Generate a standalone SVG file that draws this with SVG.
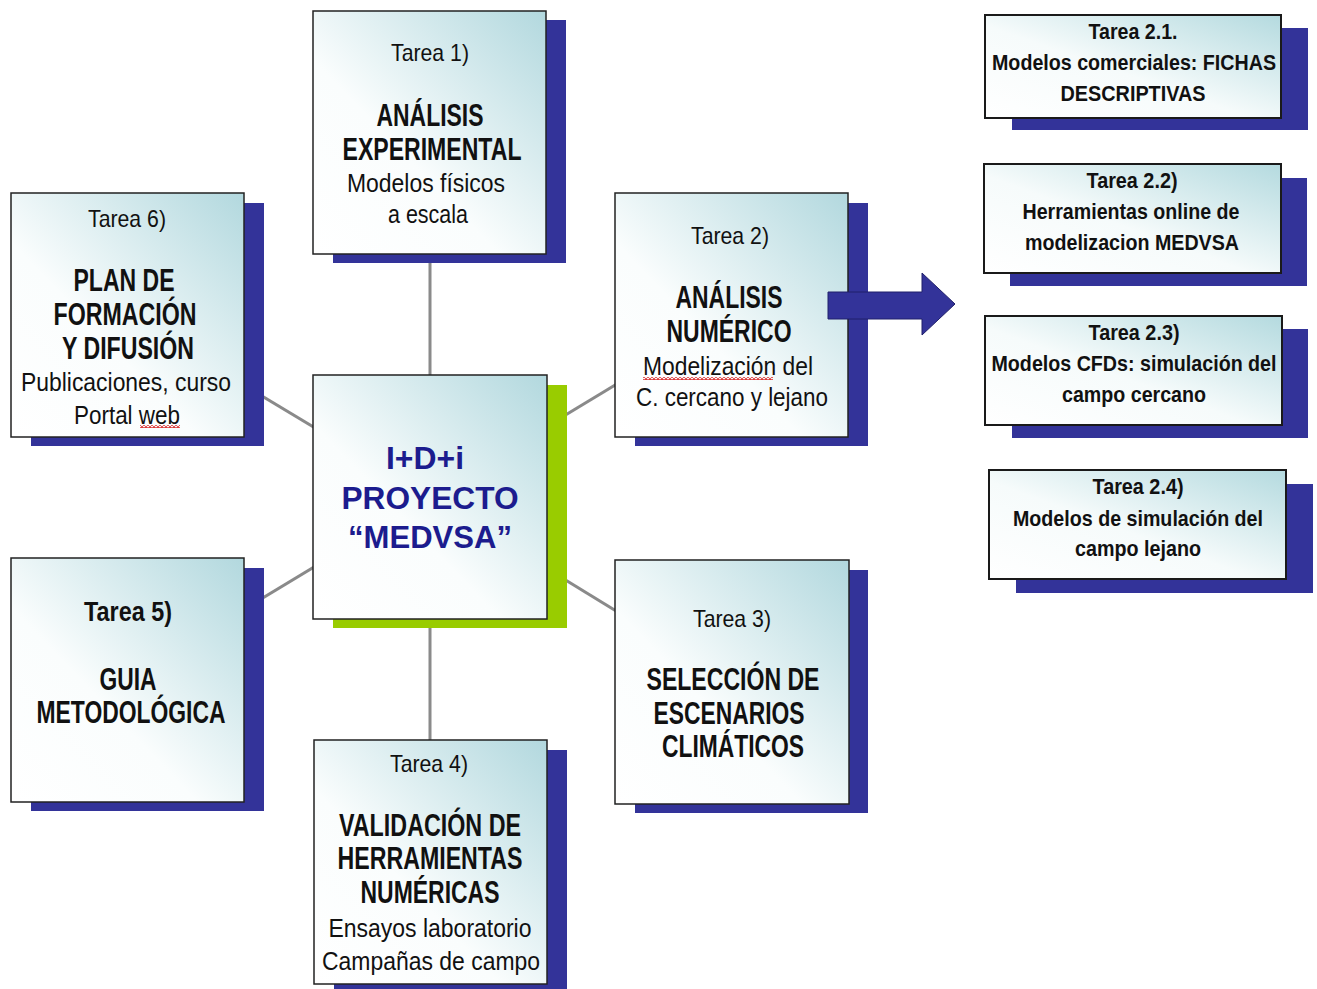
<svg xmlns="http://www.w3.org/2000/svg" width="1317" height="989" viewBox="0 0 1317 989">
<defs>
<linearGradient id="g" x1="0" y1="1" x2="1" y2="0">
<stop offset="0" stop-color="#ffffff"/>
<stop offset="0.4" stop-color="#fafdfd"/>
<stop offset="1" stop-color="#b2d8de"/>
</linearGradient>
<linearGradient id="g2" x1="0" y1="1" x2="1" y2="0">
<stop offset="0" stop-color="#ffffff"/>
<stop offset="0.45" stop-color="#f6fbfb"/>
<stop offset="1" stop-color="#b4dadf"/>
</linearGradient>
<pattern id="wave" width="4" height="3" patternUnits="userSpaceOnUse">
<path d="M0,2.5 L2,0.5 L4,2.5" fill="none" stroke="#d82020" stroke-width="1.1"/>
</pattern>
</defs>
<style>
.shadow{fill:#333399}
.box{fill:url(#g);stroke:#222;stroke-width:1.5}
.rbox{fill:url(#g2);stroke:#1a1a1a;stroke-width:2}
text{font-family:"Liberation Sans",Arial,sans-serif;fill:#111;text-anchor:middle}
.t{font-size:24px}
.t5{font-size:27px;font-weight:bold}
.h{font-size:31px;font-weight:bold}
.s{font-size:26px}
.c{font-size:31px;font-weight:bold;fill:#1c1c8e}
.r{font-size:22px;font-weight:bold}
.con{stroke:#8a8a8a;stroke-width:3;fill:none}
</style>
<rect width="1317" height="989" fill="#ffffff"/>
<g id="connectors">
<line class="con" x1="430" y1="497" x2="430" y2="131"/>
<line class="con" x1="430" y1="497" x2="430" y2="862"/>
<line class="con" x1="430" y1="497" x2="127" y2="315"/>
<line class="con" x1="430" y1="497" x2="127" y2="680"/>
<line class="con" x1="430" y1="497" x2="731" y2="315"/>
<line class="con" x1="430" y1="497" x2="732" y2="682"/>
</g>
<g id="tarea1">
<rect class="shadow" x="333" y="20" width="233" height="243"/>
<rect class="box" x="313" y="11" width="233" height="243"/>
<text class="t" x="430" y="61" textLength="78" lengthAdjust="spacingAndGlyphs">Tarea 1)</text>
<text class="h" x="430" y="126" textLength="107" lengthAdjust="spacingAndGlyphs">ANÁLISIS</text>
<text class="h" x="432" y="160" textLength="179" lengthAdjust="spacingAndGlyphs">EXPERIMENTAL</text>
<text class="s" x="426" y="192" textLength="158" lengthAdjust="spacingAndGlyphs">Modelos físicos</text>
<text class="s" x="428" y="223" textLength="80" lengthAdjust="spacingAndGlyphs">a escala</text>
</g>
<g id="tarea6">
<rect class="shadow" x="31" y="203" width="233" height="243"/>
<rect class="box" x="11" y="193" width="233" height="244"/>
<text class="t" x="127" y="227" textLength="78" lengthAdjust="spacingAndGlyphs">Tarea 6)</text>
<text class="h" x="124" y="291" textLength="101" lengthAdjust="spacingAndGlyphs">PLAN DE</text>
<text class="h" x="125" y="325" textLength="143" lengthAdjust="spacingAndGlyphs">FORMACIÓN</text>
<text class="h" x="128" y="359" textLength="132" lengthAdjust="spacingAndGlyphs">Y DIFUSIÓN</text>
<text class="s" x="126" y="391" textLength="210" lengthAdjust="spacingAndGlyphs">Publicaciones, curso</text>
<text class="s" x="127" y="424" textLength="106" lengthAdjust="spacingAndGlyphs">Portal web</text>
<rect x="140" y="425" width="40" height="3" fill="url(#wave)"/>
</g>
<g id="tarea2">
<rect class="shadow" x="635" y="203" width="233" height="243"/>
<rect class="box" x="615" y="193" width="233" height="244"/>
<text class="t" x="730" y="244" textLength="78" lengthAdjust="spacingAndGlyphs">Tarea 2)</text>
<text class="h" x="729" y="308" textLength="107" lengthAdjust="spacingAndGlyphs">ANÁLISIS</text>
<text class="h" x="729" y="342" textLength="125" lengthAdjust="spacingAndGlyphs">NUMÉRICO</text>
<text class="s" x="728" y="375" textLength="170" lengthAdjust="spacingAndGlyphs">Modelización del</text>
<rect x="643" y="377" width="130" height="3" fill="url(#wave)"/>
<text class="s" x="732" y="406" textLength="192" lengthAdjust="spacingAndGlyphs">C. cercano y lejano</text>
</g>
<g id="arrow">
<polygon points="828,292 922,292 922,273 955,304 922,335 922,319 828,319" fill="#333399" stroke="#20206a" stroke-width="1"/>
</g>
<g id="tarea5">
<rect class="shadow" x="31" y="568" width="233" height="243"/>
<rect class="box" x="11" y="558" width="233" height="244"/>
<text class="t5" x="128" y="621" textLength="88" lengthAdjust="spacingAndGlyphs">Tarea 5)</text>
<text class="h" x="128" y="690" textLength="57" lengthAdjust="spacingAndGlyphs">GUIA</text>
<text class="h" x="131" y="723" textLength="189" lengthAdjust="spacingAndGlyphs">METODOLÓGICA</text>
</g>
<g id="tarea3">
<rect class="shadow" x="635" y="570" width="233" height="243"/>
<rect class="box" x="615" y="560" width="234" height="244"/>
<text class="t" x="732" y="627" textLength="78" lengthAdjust="spacingAndGlyphs">Tarea 3)</text>
<text class="h" x="733" y="690" textLength="173" lengthAdjust="spacingAndGlyphs">SELECCIÓN DE</text>
<text class="h" x="729" y="724" textLength="151" lengthAdjust="spacingAndGlyphs">ESCENARIOS</text>
<text class="h" x="733" y="757" textLength="142" lengthAdjust="spacingAndGlyphs">CLIMÁTICOS</text>
</g>
<g id="tarea4">
<rect class="shadow" x="334" y="750" width="233" height="243"/>
<rect class="box" x="314" y="740" width="233" height="244"/>
<text class="t" x="429" y="772" textLength="78" lengthAdjust="spacingAndGlyphs">Tarea 4)</text>
<text class="h" x="430" y="836" textLength="182" lengthAdjust="spacingAndGlyphs">VALIDACIÓN DE</text>
<text class="h" x="430" y="869" textLength="185" lengthAdjust="spacingAndGlyphs">HERRAMIENTAS</text>
<text class="h" x="430" y="903" textLength="139" lengthAdjust="spacingAndGlyphs">NUMÉRICAS</text>
<text class="s" x="430" y="937" textLength="203" lengthAdjust="spacingAndGlyphs">Ensayos laboratorio</text>
<text class="s" x="431" y="970" textLength="218" lengthAdjust="spacingAndGlyphs">Campañas de campo</text>
</g>
<g id="center">
<rect x="333" y="385" width="234" height="243" fill="#99cc00"/>
<rect class="box" x="313" y="375" width="234" height="244"/>
<text class="c" x="425" y="469" textLength="78" lengthAdjust="spacingAndGlyphs">I+D+i</text>
<text class="c" x="430" y="509" textLength="177" lengthAdjust="spacingAndGlyphs">PROYECTO</text>
<text class="c" x="430" y="548" textLength="164" lengthAdjust="spacingAndGlyphs">“MEDVSA”</text>
</g>
<g id="tarea21">
<rect class="shadow" x="1012" y="28" width="296" height="102"/>
<rect class="rbox" x="985" y="15" width="296" height="103"/>
<text class="r" x="1133" y="39" textLength="89" lengthAdjust="spacingAndGlyphs">Tarea 2.1.</text>
<text class="r" x="1134" y="70" textLength="284" lengthAdjust="spacingAndGlyphs">Modelos comerciales: FICHAS</text>
<text class="r" x="1133" y="101" textLength="145" lengthAdjust="spacingAndGlyphs">DESCRIPTIVAS</text>
</g>
<g id="tarea22">
<rect class="shadow" x="1010" y="178" width="297" height="108"/>
<rect class="rbox" x="984" y="164" width="297" height="109"/>
<text class="r" x="1132" y="188" textLength="91" lengthAdjust="spacingAndGlyphs">Tarea 2.2)</text>
<text class="r" x="1131" y="219" textLength="217" lengthAdjust="spacingAndGlyphs">Herramientas online de</text>
<text class="r" x="1132" y="250" textLength="214" lengthAdjust="spacingAndGlyphs">modelizacion MEDVSA</text>
</g>
<g id="tarea23">
<rect class="shadow" x="1012" y="329" width="296" height="109"/>
<rect class="rbox" x="985" y="316" width="297" height="109"/>
<text class="r" x="1134" y="340" textLength="91" lengthAdjust="spacingAndGlyphs">Tarea 2.3)</text>
<text class="r" x="1134" y="371" textLength="285" lengthAdjust="spacingAndGlyphs">Modelos CFDs: simulación del</text>
<text class="r" x="1134" y="402" textLength="144" lengthAdjust="spacingAndGlyphs">campo cercano</text>
</g>
<g id="tarea24">
<rect class="shadow" x="1016" y="484" width="297" height="109"/>
<rect class="rbox" x="989" y="470" width="297" height="109"/>
<text class="r" x="1138" y="494" textLength="91" lengthAdjust="spacingAndGlyphs">Tarea 2.4)</text>
<text class="r" x="1138" y="526" textLength="250" lengthAdjust="spacingAndGlyphs">Modelos de simulación del</text>
<text class="r" x="1138" y="556" textLength="126" lengthAdjust="spacingAndGlyphs">campo lejano</text>
</g>
</svg>
